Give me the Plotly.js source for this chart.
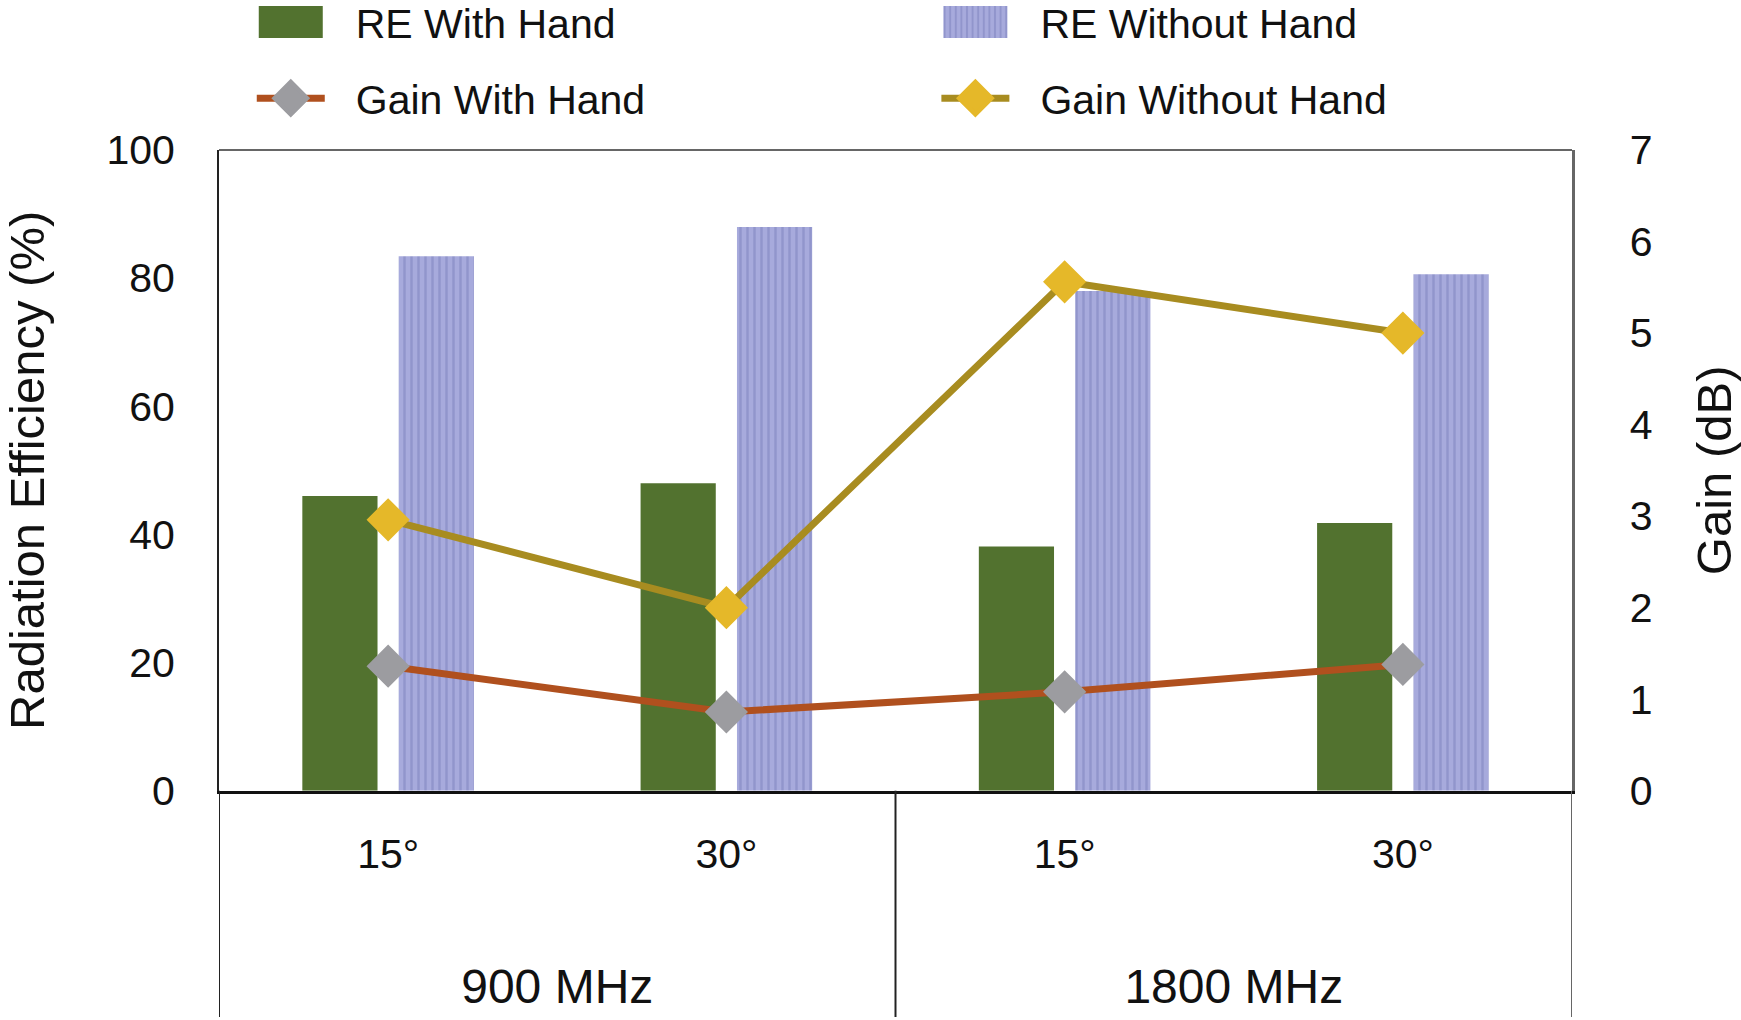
<!DOCTYPE html>
<html>
<head>
<meta charset="utf-8">
<script src="https://cdn.plot.ly/plotly-3.0.1.min.js"></script>
<style>
  html, body { margin: 0; padding: 0; background: #fff; }
  #chart { width: 1741px; height: 1020px; }
</style>
</head>
<body>
<div id="chart"></div>
<script>
/* Radiation efficiency (bars, left axis) and gain (lines, right axis)
   for 15/30 degree grips at 900 and 1800 MHz */

const bandOf = ['900 MHz', '900 MHz', '1800 MHz', '1800 MHz'];
const angles = ['15°', '30°', '15°', '30°'];

const reWithHand = [46.0, 48.0, 38.1, 41.8];
const reWithoutHand = [83.4, 88.0, 78.0, 80.6];
const gainWithHand = [1.36, 0.86, 1.08, 1.38];
const gainWithoutHand = [2.96, 2.0, 5.56, 5.0];

// ---- derived positions (category index per point, band centres/edges) ----
const xIdx = angles.map((_, i) => i);
const bands = [...new Set(bandOf)];
const bandCentres = bands.map(b => {
  const idx = xIdx.filter(i => bandOf[i] === b);
  return (idx[0] + idx[idx.length - 1]) / 2;
});
const bandEdges = [-0.5].concat(bands.map(b => xIdx.filter(i => bandOf[i] === b).slice(-1)[0] + 0.5));

const FONT = 'Liberation Sans, Arial, Helvetica, sans-serif';
const GREEN = '#52722f';
const BLUE = '#a7aadc';
const STRIPE = '#9195cc';
const RUST = '#b0501e';
const GREY = '#9c9ca0';
const OLIVE = '#a88c20';
const GOLD = '#e5b829';
const MARKER_SIZE = 30;

const traces = [
  {
    type: 'bar', name: 'RE With Hand', x: xIdx, y: reWithHand,
    marker: { color: GREEN, line: { width: 0 } },
    legend: 'legend', legendgroup: 'a',
  },
  {
    type: 'bar', name: 'RE Without Hand', x: xIdx, y: reWithoutHand,
    marker: {
      color: BLUE, line: { width: 0 },
      pattern: { shape: '|', fgcolor: STRIPE, bgcolor: BLUE, size: 7, solidity: 0.35, fillmode: 'replace' },
    },
    legend: 'legend2', legendgroup: 'b',
  },
  {
    type: 'scatter', mode: 'lines+markers', name: 'Gain With Hand', x: xIdx, y: gainWithHand,
    xaxis: 'x2', yaxis: 'y2',
    line: { color: RUST, width: 7 },
    marker: { symbol: 'diamond', size: MARKER_SIZE, color: GREY, line: { color: GREY, width: 3 } },
    legend: 'legend', legendgroup: 'c',
  },
  {
    type: 'scatter', mode: 'lines+markers', name: 'Gain Without Hand', x: xIdx, y: gainWithoutHand,
    xaxis: 'x2', yaxis: 'y2',
    line: { color: OLIVE, width: 7 },
    marker: { symbol: 'diamond', size: MARKER_SIZE, color: GOLD, line: { color: GOLD, width: 3 } },
    legend: 'legend2', legendgroup: 'd',
  },
];

const tickFont = { family: FONT, size: 41, color: '#111' };
const bandFont = { family: FONT, size: 48, color: '#111' };
const titleFont = { family: FONT, size: 49, color: '#111' };
const legendBase = {
  orientation: 'v', traceorder: 'grouped', tracegroupgap: 20,
  itemwidth: 120, yanchor: 'top', y: 1.186, xanchor: 'left',
  font: { family: FONT, size: 41, color: '#111' },
  bgcolor: 'rgba(0,0,0,0)', borderwidth: 0,
};

// lines below the zero line that box the two bands
const dividers = bandEdges.map((e, i) => ({
  type: 'line', xref: 'x', yref: 'paper', x0: e, x1: e, y0: 0, y1: 0.261,
  line: { color: i === bandEdges.length - 1 ? '#666' : '#222', width: 2 },
}));

const layout = {
  width: 1741, height: 1020,
  margin: { l: 219, r: 169, t: 150, b: 3, autoexpand: false },
  paper_bgcolor: '#fff', plot_bgcolor: '#fff',
  font: { family: FONT, color: '#111' },
  barmode: 'group', bargap: 0.43, bargroupgap: 0.22,
  showlegend: true,
  legend: Object.assign({}, legendBase, { x: 0.005 }),
  legend2: Object.assign({}, legendBase, { x: 0.511 }),
  xaxis: {
    type: 'linear', range: [-0.5, 3.5], domain: [0, 1], anchor: 'y',
    tickvals: xIdx, ticktext: angles, ticks: '', ticklabelstandoff: 25,
    tickfont: tickFont, showgrid: false, zeroline: false,
    showline: true, linecolor: '#111', linewidth: 3, mirror: false,
  },
  xaxis2: {
    type: 'linear', range: [-0.5, 3.5], overlaying: 'x', anchor: 'free', position: 0, side: 'top',
    tickvals: bandCentres, ticktext: bands, ticks: '', ticklabelstandoff: 4,
    tickfont: bandFont, showgrid: false, zeroline: false, showline: false,
  },
  yaxis: {
    range: [0, 100], domain: [0.261, 1], dtick: 20, ticks: '',
    tickfont: tickFont, ticklabelstandoff: 34,
    showgrid: false, zeroline: false,
    showline: true, linecolor: '#222', linewidth: 2,
    title: { text: 'Radiation Efficiency (%)', font: titleFont, standoff: 83 },
    automargin: false,
  },
  yaxis2: {
    range: [0, 7], dtick: 1, overlaying: 'y', side: 'right', anchor: 'x', ticks: '',
    tickfont: tickFont, ticklabelstandoff: 47,
    showgrid: false, zeroline: false,
    showline: true, linecolor: '#666', linewidth: 2.5,
    title: { text: 'Gain (dB)', font: titleFont, standoff: 45 },
    automargin: false,
  },
  shapes: dividers.concat([{
    // top border of the plot box
    type: 'line', xref: 'paper', yref: 'paper', x0: 0, x1: 1, y0: 1, y1: 1,
    line: { color: '#666', width: 2 },
  }]),
};

// Plotly caps legend symbol sizes; scale them up to match the original swatches
function enlargeLegendSymbols(gd) {
  gd.querySelectorAll('.legendpoints path:not(.scatterpts)').forEach(p => {
    p.setAttribute('d', 'M32,16H-32V-16H32Z');
  });
  gd.querySelectorAll('.legendlines path').forEach(p => {
    const b = p.getBBox();
    const cx = b.x + b.width / 2;
    p.setAttribute('d', `M${cx - 34},0h68`);
  });
  gd.querySelectorAll('.legendpoints path.scatterpts').forEach(p => {
    const t = p.getAttribute('transform') || '';
    p.setAttribute('transform', t + ' scale(1.55)');
  });
}

Plotly.newPlot('chart', traces, layout, { displayModeBar: false, staticPlot: true })
  .then(enlargeLegendSymbols);
</script>
</body>
</html>
